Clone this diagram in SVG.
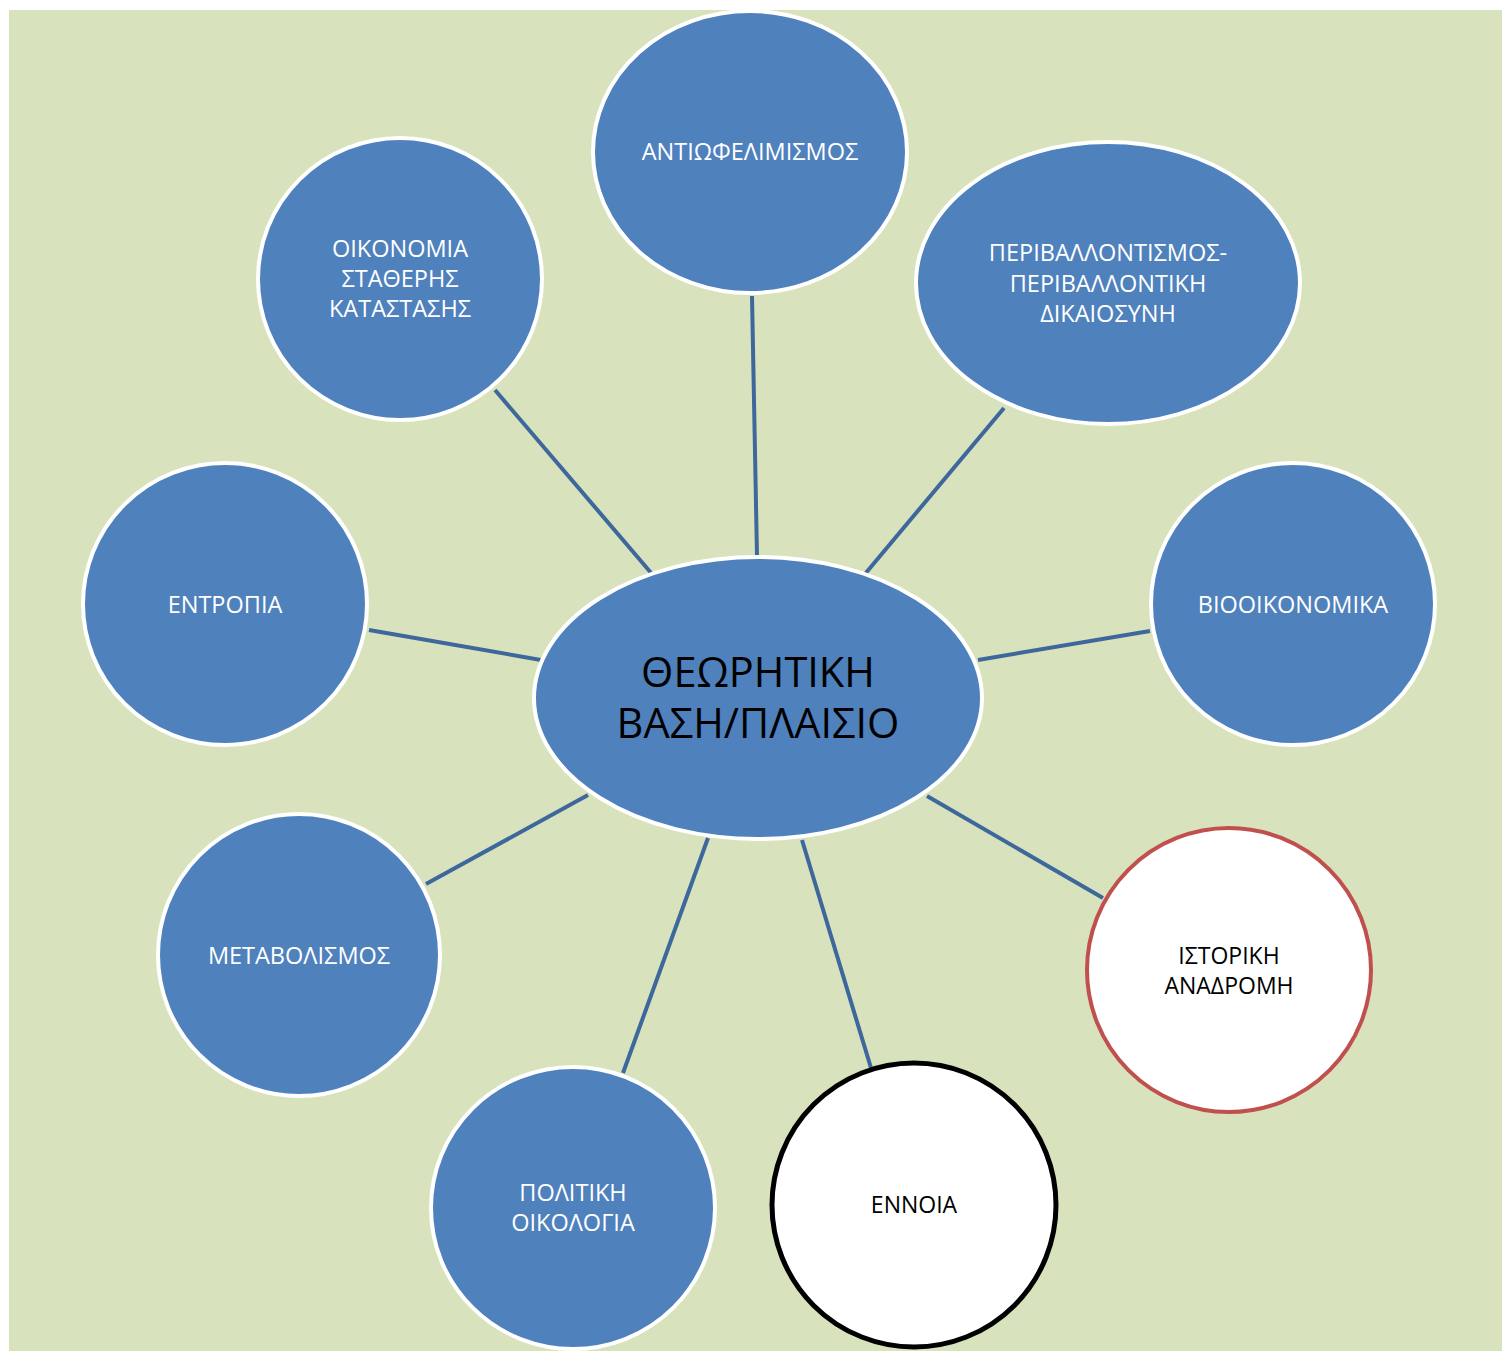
<svg xmlns="http://www.w3.org/2000/svg" width="1502" height="1351" viewBox="0 0 1502 1351">
<style>
.bg{fill:#D8E3BD}
.n{fill:#4F81BD;stroke:#FFFFFF;stroke-width:4}
.w{fill:#FFFFFF}
.red{stroke:#C0504D;stroke-width:4}
.blk{stroke:#000000;stroke-width:5}
.c line{stroke:#3E679C;stroke-width:4}
text{font-family:"Open Sans","Noto Sans","DejaVu Sans",sans-serif;text-anchor:middle}
.t{font-size:23.5px;fill:#FFFFFF}
.tb{font-size:23px;fill:#000000}
.big{font-size:41.5px;fill:#000000}
</style>
<rect class="bg" x="9" y="10" width="1493" height="1341"/>
<g id="connectors" class="c">
<line x1="752" y1="296" x2="757" y2="556"/>
<line x1="495" y1="390" x2="652" y2="574"/>
<line x1="1004" y1="408" x2="865" y2="574"/>
<line x1="369" y1="630" x2="541" y2="660"/>
<line x1="978" y1="660" x2="1150" y2="631"/>
<line x1="588" y1="795" x2="426" y2="884"/>
<line x1="708" y1="838" x2="623" y2="1073"/>
<line x1="802" y1="840" x2="871" y2="1068"/>
<line x1="927" y1="796" x2="1103" y2="898"/>
</g>
<g id="center">
<ellipse class="n" cx="758" cy="698" rx="224" ry="141"/>
<text class="big" x="758" y="687">ΘΕΩΡΗΤΙΚΗ</text>
<text class="big" x="758" y="738">ΒΑΣΗ/ΠΛΑΙΣΙΟ</text>
</g>
<g id="antiofelimismos">
<ellipse class="n" cx="750" cy="152" rx="157" ry="141"/>
<text class="t" x="750" y="160">ΑΝΤΙΩΦΕΛΙΜΙΣΜΟΣ</text>
</g>
<g id="perivallontismos">
<ellipse class="n" cx="1108" cy="283" rx="192" ry="141"/>
<text class="t" x="1108" y="261">ΠΕΡΙΒΑΛΛΟΝΤΙΣΜΟΣ-</text>
<text class="t" x="1108" y="291.5">ΠΕΡΙΒΑΛΛΟΝΤΙΚΗ</text>
<text class="t" x="1108" y="322">ΔΙΚΑΙΟΣΥΝΗ</text>
</g>
<g id="oikonomia">
<ellipse class="n" cx="400" cy="279" rx="142" ry="141"/>
<text class="t" x="400" y="256.5">ΟΙΚΟΝΟΜΙΑ</text>
<text class="t" x="400" y="286.5">ΣΤΑΘΕΡΗΣ</text>
<text class="t" x="400" y="316.5">ΚΑΤΑΣΤΑΣΗΣ</text>
</g>
<g id="entropia">
<ellipse class="n" cx="225" cy="604" rx="142" ry="141"/>
<text class="t" x="225" y="613">ΕΝΤΡΟΠΙΑ</text>
</g>
<g id="viooikonomika">
<ellipse class="n" cx="1293" cy="604" rx="142" ry="141"/>
<text class="t" x="1293" y="613">ΒΙΟΟΙΚΟΝΟΜΙΚΑ</text>
</g>
<g id="metavolismos">
<ellipse class="n" cx="299" cy="955" rx="141" ry="141"/>
<text class="t" x="299" y="964">ΜΕΤΑΒΟΛΙΣΜΟΣ</text>
</g>
<g id="istoriki">
<ellipse class="w red" cx="1229" cy="970" rx="142" ry="142"/>
<text class="tb" x="1229" y="963.5">ΙΣΤΟΡΙΚΗ</text>
<text class="tb" x="1229" y="993.5">ΑΝΑΔΡΟΜΗ</text>
</g>
<g id="ennoia">
<ellipse class="w blk" cx="914" cy="1205" rx="142" ry="142"/>
<text class="tb" x="914" y="1213">ΕΝΝΟΙΑ</text>
</g>
<g id="politiki">
<ellipse class="n" cx="573" cy="1208" rx="142" ry="141"/>
<text class="t" x="573" y="1201">ΠΟΛΙΤΙΚΗ</text>
<text class="t" x="573" y="1231">ΟΙΚΟΛΟΓΙΑ</text>
</g>
</svg>
